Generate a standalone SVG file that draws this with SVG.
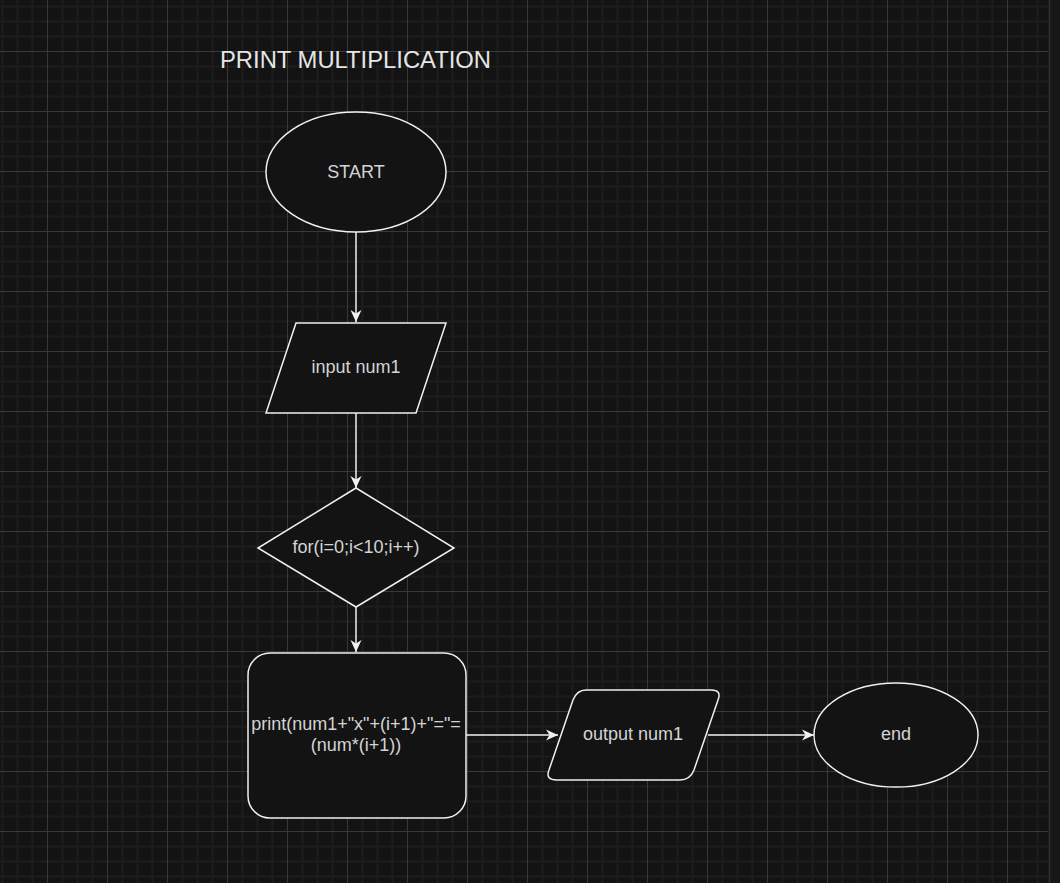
<svg xmlns="http://www.w3.org/2000/svg" width="1060" height="883" viewBox="0 0 1060 883">
  <style>
    .shape { fill: #131313; stroke: #f0f0f0; stroke-width: 1.5; }
    .lbl { font-family: "Liberation Sans", Arial, sans-serif; font-size: 18px; fill: #d4d4d4; text-anchor: middle; dominant-baseline: central; }
    .title { font-family: "Liberation Sans", Arial, sans-serif; font-size: 23.8px; fill: #e6e6e6; }
    .edge { fill: none; stroke: #f0f0f0; stroke-width: 1.5; }
  </style>
  <defs>
    <pattern id="grid" patternUnits="userSpaceOnUse" x="47" y="51" width="60" height="60">
      <rect width="60" height="60" fill="#131313"/>
      <path d="M15.5,0V60M30.5,0V60M45.5,0V60M0,15.5H60M0,30.5H60M0,45.5H60" stroke="#1c1c1c" stroke-width="2"/>
      <path d="M0.5,0V60M0,0.5H60" stroke="#383838" stroke-width="1"/>
    </pattern>
    <marker id="arrow" markerUnits="userSpaceOnUse" viewBox="0 0 12 12" markerWidth="12" markerHeight="12" refX="12" refY="6" orient="auto">
      <path d="M0,0.5 L12,6 L0,11.5 L3.5,6 Z" fill="#f0f0f0"/>
    </marker>
  </defs>
  <rect width="1060" height="883" fill="#131313"/>
  <rect width="1048" height="883" fill="url(#grid)"/>
  <rect x="1048" y="0" width="12" height="883" fill="#171717"/>
  <line x1="1049.5" y1="0" x2="1049.5" y2="883" stroke="#2e2e2e" stroke-width="1.5"/>

  <text class="title" x="220" y="67.5">PRINT MULTIPLICATION</text>

  <g id="connectors">
    <line class="edge" x1="356" y1="232" x2="356" y2="322" marker-end="url(#arrow)"/>
    <line class="edge" x1="356" y1="413" x2="356" y2="488" marker-end="url(#arrow)"/>
    <line class="edge" x1="356" y1="607" x2="356" y2="652" marker-end="url(#arrow)"/>
    <line class="edge" x1="466" y1="735" x2="558" y2="735" marker-end="url(#arrow)"/>
    <line class="edge" x1="708" y1="735" x2="814" y2="735" marker-end="url(#arrow)"/>
  </g>

  <g id="start">
    <ellipse class="shape" cx="356" cy="172" rx="90" ry="60"/>
    <text class="lbl" x="356" y="172">START</text>
  </g>
  <g id="input">
    <polygon class="shape" points="296,323 446,323 416,413 266,413"/>
    <text class="lbl" x="356" y="367">input num1</text>
  </g>
  <g id="loop">
    <polygon class="shape" points="356,488 454,548 356,607 258,548"/>
    <text class="lbl" x="356" y="547">for(i=0;i&lt;10;i++)</text>
  </g>
  <g id="print">
    <rect class="shape" x="248" y="653" width="218" height="165" rx="22" ry="22"/>
    <text class="lbl" x="356" y="724">print(num1+"x"+(i+1)+"="=</text>
    <text class="lbl" x="356" y="745">(num*(i+1))</text>
  </g>
  <g id="output">
    <path class="shape" d="M586,690 L711,690 Q722,690 718,700 L694,770 Q690,780 680,780 L557,780 Q545,780 549,770 L573,700 Q577,690 586,690 Z"/>
    <text class="lbl" x="633" y="734">output num1</text>
  </g>
  <g id="end">
    <ellipse class="shape" cx="896" cy="735" rx="82" ry="52"/>
    <text class="lbl" x="896" y="734">end</text>
  </g>
</svg>
